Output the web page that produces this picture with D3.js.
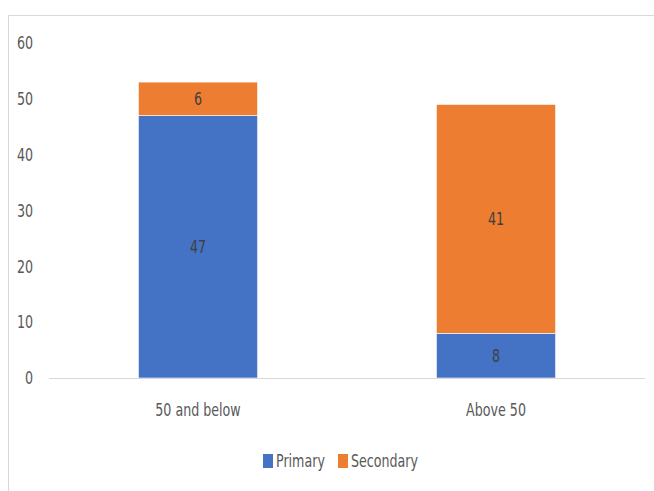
<!DOCTYPE html>
<html>
<head>
<meta charset="utf-8">
<script src="https://cdn.jsdelivr.net/npm/d3@7"></script>
<style>
  body { margin: 0; background: #fff; }
  text { font-family: "DejaVu Sans Condensed", "Liberation Sans", sans-serif; }
</style>
</head>
<body>
<svg id="chart" width="654" height="491"></svg>
<script>
const categories = ["50 and below", "Above 50"];
const seriesNames = ["Primary", "Secondary"];
const primary = [47, 8];
const secondary = [6, 41];
const yTicks = [0, 10, 20, 30, 40, 50, 60];
const colors = ["#4472c4", "#ed7d31"];

const svg = d3.select("#chart");
// the reference text looks narrow and tall, so squeeze it a bit
const squeeze = "scale(0.88,1.12)";

// outer chart border
svg.append("rect")
  .attr("x", 8.5).attr("y", 15.5)
  .attr("width", 660).attr("height", 500)
  .attr("fill", "none").attr("stroke", "#d9d9d9");

const x = d3.scaleBand().domain(categories).range([49, 645]).paddingInner(0.6).paddingOuter(0.3);
const y = d3.scaleLinear().domain([0, 60]).range([378, 43]);

const rows = categories.map((c, i) => ({ cat: c, Primary: primary[i], Secondary: secondary[i] }));
const stacked = d3.stack().keys(seriesNames)(rows);

// y labels
svg.append("g").selectAll("text").data(yTicks).enter().append("text")
  .attr("transform", d => `translate(33,${y(d)}) ${squeeze}`)
  .attr("dy", "0.35em")
  .attr("text-anchor", "end")
  .attr("fill", "#595959")
  .attr("font-size", 16)
  .text(d => d);

// bars
stacked.forEach((s, k) => {
  svg.append("g").selectAll("rect").data(s).enter().append("rect")
    .attr("x", d => x(d.data.cat))
    .attr("y", d => y(d[1]))
    .attr("width", x.bandwidth())
    .attr("height", d => y(d[0]) - y(d[1]))
    .attr("fill", colors[k])
    .attr("stroke", "#fff").attr("stroke-width", 0.6);

  svg.append("g").selectAll("text").data(s).enter().append("text")
    .attr("transform", d => `translate(${x(d.data.cat) + x.bandwidth() / 2},${(y(d[0]) + y(d[1])) / 2}) ${squeeze}`)
    .attr("dy", "0.35em")
    .attr("text-anchor", "middle")
    .attr("fill", "#404040")
    .attr("font-size", 16)
    .text(d => d[1] - d[0]);
});

// baseline
svg.append("line")
  .attr("x1", 49).attr("x2", 645)
  .attr("y1", y(0) + 0.5).attr("y2", y(0) + 0.5)
  .attr("stroke", "#d9d9d9");

// category labels
svg.append("g").selectAll("text").data(categories).enter().append("text")
  .attr("transform", d => `translate(${x(d) + x.bandwidth() / 2},410) ${squeeze}`)
  .attr("dy", "0.35em")
  .attr("text-anchor", "middle")
  .attr("fill", "#595959")
  .attr("font-size", 16)
  .text(d => d);

// legend
const legendX = [263, 338];
const legend = svg.append("g").selectAll("g").data(seriesNames).enter().append("g")
  .attr("transform", (d, i) => `translate(${legendX[i]},461)`);
legend.append("rect")
  .attr("x", 0).attr("y", -7).attr("width", 10).attr("height", 14)
  .attr("fill", (d, i) => colors[i]);
legend.append("text")
  .attr("transform", `translate(13,0) ${squeeze}`)
  .attr("dy", "0.35em")
  .attr("fill", "#595959")
  .attr("font-size", 16)
  .text(d => d);
</script>
</body>
</html>
